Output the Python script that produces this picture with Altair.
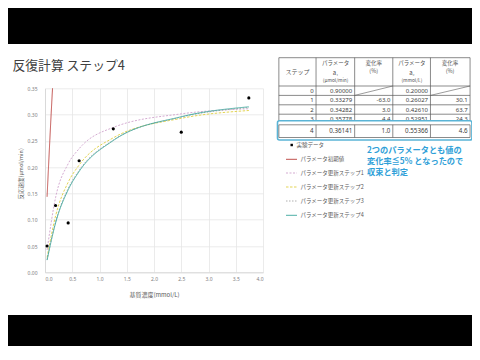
import altair as alt
import pandas as pd

# ---------------- data ----------------
S = [0.038, 0.194, 0.425, 0.626, 1.253, 2.500, 3.740]
V_obs = [0.050, 0.127, 0.094, 0.2122, 0.2729, 0.2665, 0.3317]

series_names = ["パラメータ初期値", "パラメータ更新ステップ1", "パラメータ更新ステップ2",
                "パラメータ更新ステップ3", "パラメータ更新ステップ4"]
v_step0 = [0.1437, 0.4431, 0.612, 0.682, 0.776, 0.833, 0.854]
v_step1 = [0.0424, 0.1421, 0.2064, 0.2351, 0.2756, 0.3014, 0.3111]
v_step2 = [0.0281, 0.1073, 0.1712, 0.2040, 0.2558, 0.2929, 0.3078]
v_step3 = [0.0240, 0.0959, 0.1593, 0.1938, 0.2515, 0.2952, 0.3134]
v_step4 = [0.0232, 0.0938, 0.1569, 0.1918, 0.2507, 0.2959, 0.3148]
series_values = [v_step0, v_step1, v_step2, v_step3, v_step4]
series_colors = ["#c0504d", "#d3a9d0", "#e2d24c", "#a8a8a8", "#3aa69c"]
series_dash = [[1, 0], [2, 1.5], [2.5, 1.5], [1.5, 1.5], [1, 0]]
series_width = [1.0, 0.9, 0.9, 0.9, 1.3]

x_ticks = [0.0, 0.5, 1.0, 1.5, 2.0, 2.5, 3.0, 3.5, 4.0]
y_ticks = [0.0, 0.05, 0.10, 0.15, 0.20, 0.25, 0.30, 0.35]

steps = ["0", "1", "2", "3", "4"]
a1_vals = ["0.90000", "0.33279", "0.34282", "0.35778", "0.36141"]
a1_chg = ["", "-63.0", "3.0", "4.4", "1.0"]
a2_vals = ["0.20000", "0.26027", "0.42610", "0.52951", "0.55366"]
a2_chg = ["", "30.1", "63.7", "24.3", "4.6"]

title_text = "反復計算 ステップ4"
note_lines = ["2つのパラメータとも値の", "変化率≦5% となったので", "収束と判定"]
obs_label = "実験データ"

JP = "Noto Sans CJK JP"

# ---------------- layout (page pixel coords) ----------------
OX, OY = 45.0, 88.3          # plot origin in page coords
W, H = 218, 184
TOTAL_W, TOTAL_H = 464, 338
PAD_L, PAD_T = OX - 8, OY - 8


def px(X):
    return X - OX


def py(Y):
    return Y - OY


def tx(X):
    # table x positions, squeezed slightly so the table fits the page width
    return px(277.5 + (X - 280.6) * 0.978)


# ---------------- plot ----------------
rows = []
for name, vals in zip(series_names, series_values):
    for s, v in zip(S, vals):
        rows.append({"series": name, "S": s, "v": v})
lines_df = pd.DataFrame(rows)
obs_df = pd.DataFrame({"S": S, "v": V_obs})

x_scale = alt.Scale(domain=[0, 4], nice=False)
y_scale = alt.Scale(domain=[0, 0.35], nice=False)

x_axis = alt.Axis(values=x_ticks, format=".1f", labelFontSize=5, labelColor="#808080",
                  labelFont="Noto Sans", labelPadding=4, ticks=False, domainColor="#d9d9d9",
                  gridColor="#e6e6e6", gridWidth=0.8, title="基質濃度(mmol/L)",
                  titleFontSize=6, titleFont=JP, titleColor="#595959", titleFontWeight="normal",
                  titleY=22, titleBaseline="middle")
y_axis = alt.Axis(values=y_ticks, format=".2f", labelFontSize=5, labelColor="#808080",
                  labelFont="Noto Sans", labelPadding=8, ticks=False, domainColor="#d9d9d9",
                  gridColor="#e6e6e6", gridWidth=0.8, title="反応速度(μmol/min)",
                  titleFontSize=5.5, titleFont=JP, titleColor="#595959", titleFontWeight="normal",
                  titleX=-25, titleY=85, titleAngle=270, titleAlign="center",
                  titleBaseline="middle")

color_scale = alt.Scale(domain=series_names, range=series_colors)
dash_scale = alt.Scale(domain=series_names, range=series_dash)
width_scale = alt.Scale(domain=series_names, range=series_width)

lines = alt.Chart(lines_df).mark_line(clip=True, interpolate="monotone").encode(
    x=alt.X("S:Q", scale=x_scale, axis=x_axis),
    y=alt.Y("v:Q", scale=y_scale, axis=y_axis),
    color=alt.Color("series:N", scale=color_scale, legend=None),
    strokeDash=alt.StrokeDash("series:N", scale=dash_scale, legend=None),
    strokeWidth=alt.StrokeWidth("series:N", scale=width_scale, legend=None),
)

points = alt.Chart(obs_df).mark_point(filled=True, shape="circle", size=10, color="black",
                                      opacity=1).encode(
    x=alt.X("S:Q", scale=x_scale, axis=x_axis),
    y=alt.Y("v:Q", scale=y_scale, axis=y_axis),
)

# ---------------- black letterbox bars ----------------
bars_df = pd.DataFrame({"x": [-60, -60], "x2": [450, 450],
                        "y": [py(-20), py(315)], "y2": [py(44), py(380)]})
bars = alt.Chart(bars_df).mark_rect(color="black").encode(
    x=alt.X("x:Q", scale=None), x2="x2:Q",
    y=alt.Y("y:Q", scale=None), y2="y2:Q")

# ---------------- title ----------------
title_df = pd.DataFrame({"x": [px(12.5)], "y": [py(66)], "t": [title_text]})
title = alt.Chart(title_df).mark_text(align="left", baseline="middle", font=JP, fontSize=12.8,
                                      color="#404040").encode(
    x=alt.X("x:Q", scale=None), y=alt.Y("y:Q", scale=None), text="t:N")

# ---------------- table ----------------
CE = [282, 320, 359.5, 398.5, 437, 477.5]
RT = [57.7, 86, 95.4, 104.8, 114.2, 123.6]   # header top, header bottom, row bottoms 0..3
R4 = [124.8, 137.5]

hl = pd.DataFrame({"x": [tx(CE[0])] * 5, "x2": [tx(CE[-1])] * 5,
                   "y": [py(v) for v in RT[:5]]})
vl = pd.DataFrame({"x": [tx(c) for c in CE], "y": [py(RT[0])] * 6, "y2": [py(RT[-1])] * 6})
diag = pd.DataFrame({"x": [tx(CE[2]), tx(CE[4])], "x2": [tx(CE[3]), tx(CE[5])],
                     "y": [py(RT[2])] * 2, "y2": [py(RT[1])] * 2})

hlines = alt.Chart(hl).mark_rule(color="#595959", strokeWidth=0.7).encode(
    x=alt.X("x:Q", scale=None), x2="x2:Q", y=alt.Y("y:Q", scale=None))
vlines = alt.Chart(vl).mark_rule(color="#595959", strokeWidth=0.7).encode(
    x=alt.X("x:Q", scale=None), y=alt.Y("y:Q", scale=None), y2="y2:Q")
dlines = alt.Chart(diag).mark_rule(color="#595959", strokeWidth=0.6).encode(
    x=alt.X("x:Q", scale=None), x2="x2:Q", y=alt.Y("y:Q", scale=None), y2="y2:Q")

hdr = pd.DataFrame({
    "x": [tx(301), tx(340), tx(340), tx(340), tx(379), tx(379),
          tx(418), tx(418), tx(418), tx(457), tx(457)],
    "y": [py(71.5), py(62.5), py(72.5), py(80.5), py(63), py(71),
          py(62.5), py(72.5), py(80.5), py(63), py(71)],
    "t": ["ステップ", "パラメータ", "a₁", "(μmol/min)", "変化率", "(%)",
          "パラメータ", "a₂", "(mmol/L)", "変化率", "(%)"],
    "s": [6, 5.5, 6, 4.8, 5.5, 5.5, 5.5, 6, 4.8, 5.5, 5.5],
})
header = alt.Chart(hdr).mark_text(align="center", baseline="middle", font=JP,
                                  color="#505050").encode(
    x=alt.X("x:Q", scale=None), y=alt.Y("y:Q", scale=None), text="t:N",
    size=alt.Size("s:Q", scale=None, legend=None))

row_y = [90.7, 100.1, 109.5, 118.9, 131.2]
cells = []
for i in range(5):
    for col, val in zip(range(5), [steps[i], a1_vals[i], a1_chg[i], a2_vals[i], a2_chg[i]]):
        if val:
            cells.append({"x": tx(CE[col + 1] - 2.5), "y": py(row_y[i]), "t": val, "r": i})
cells_df = pd.DataFrame(cells)

body = alt.Chart(cells_df).transform_filter("datum.r < 4").mark_text(
    align="right", baseline="middle", font="Noto Sans", fontSize=6, color="#404040").encode(
    x=alt.X("x:Q", scale=None), y=alt.Y("y:Q", scale=None), text="t:N")

box_df = pd.DataFrame({"x": [tx(280.6)], "x2": [tx(479.4)], "y": [py(120.8)], "y2": [py(140)]})
box = alt.Chart(box_df).mark_rect(fill="white", stroke="#5ab4d6", strokeWidth=1.6,
                                  cornerRadius=2).encode(
    x=alt.X("x:Q", scale=None), x2="x2:Q", y=alt.Y("y:Q", scale=None), y2="y2:Q")

r4h = pd.DataFrame({"x": [tx(CE[0])] * 2, "x2": [tx(CE[-1])] * 2, "y": [py(v) for v in R4]})
r4v = pd.DataFrame({"x": [tx(c) for c in CE], "y": [py(R4[0])] * 6, "y2": [py(R4[1])] * 6})
r4hl = alt.Chart(r4h).mark_rule(color="#595959", strokeWidth=0.7).encode(
    x=alt.X("x:Q", scale=None), x2="x2:Q", y=alt.Y("y:Q", scale=None))
r4vl = alt.Chart(r4v).mark_rule(color="#595959", strokeWidth=0.7).encode(
    x=alt.X("x:Q", scale=None), y=alt.Y("y:Q", scale=None), y2="y2:Q")
body4 = alt.Chart(cells_df).transform_filter("datum.r == 4").mark_text(
    align="right", baseline="middle", font="Noto Sans", fontSize=6.2, color="#404040").encode(
    x=alt.X("x:Q", scale=None), y=alt.Y("y:Q", scale=None), text="t:N")

# ---------------- manual legend ----------------
leg_y = [159.3, 173.0, 187.0, 201.0, 215.3]
leg_df = pd.DataFrame({"series": series_names, "x": [px(286)] * 5, "x2": [px(297)] * 5,
                       "y": [py(v) for v in leg_y], "tx": [px(300.5)] * 5})
leg_lines = alt.Chart(leg_df).mark_rule().encode(
    x=alt.X("x:Q", scale=None), x2="x2:Q", y=alt.Y("y:Q", scale=None),
    color=alt.Color("series:N", scale=color_scale, legend=None),
    strokeDash=alt.StrokeDash("series:N", scale=dash_scale, legend=None),
    strokeWidth=alt.StrokeWidth("series:N", scale=width_scale, legend=None))
leg_text = alt.Chart(leg_df).mark_text(align="left", baseline="middle", font=JP, fontSize=5.5,
                                       color="#595959").encode(
    x=alt.X("tx:Q", scale=None), y=alt.Y("y:Q", scale=None), text="series:N")

obs_leg_df = pd.DataFrame({"x": [px(291.7)], "y": [py(145)], "tx": [px(296.5)], "t": [obs_label]})
obs_leg_pt = alt.Chart(obs_leg_df).mark_point(filled=True, shape="square", size=6, color="black",
                                              opacity=1).encode(
    x=alt.X("x:Q", scale=None), y=alt.Y("y:Q", scale=None))
obs_leg_tx = alt.Chart(obs_leg_df).mark_text(align="left", baseline="middle", font=JP,
                                             fontSize=5.5, color="#595959").encode(
    x=alt.X("tx:Q", scale=None), y=alt.Y("y:Q", scale=None), text="t:N")

# ---------------- note ----------------
note_df = pd.DataFrame({"x": [px(367)] * 3, "y": [py(150.7), py(162.0), py(173.0)],
                        "t": note_lines})
note = alt.Chart(note_df).mark_text(align="left", baseline="middle", font=JP, fontSize=8.2,
                                    fontWeight="bold", color="#2f9fd8").encode(
    x=alt.X("x:Q", scale=None), y=alt.Y("y:Q", scale=None), text="t:N")

chart = alt.layer(
    lines, points, bars, title, hlines, vlines, dlines, header, body, box, r4hl, r4vl,
    body4, leg_lines, leg_text, obs_leg_pt, obs_leg_tx, note
).properties(
    width=W, height=H,
    autosize=alt.AutoSizeParams(type="none"),
    padding={"left": PAD_L, "top": PAD_T, "right": TOTAL_W - PAD_L - W,
             "bottom": TOTAL_H - PAD_T - H},
    background="white",
).configure_view(stroke=None)

chart.save("out.html", embed_options={"renderer": "svg", "actions": False})
